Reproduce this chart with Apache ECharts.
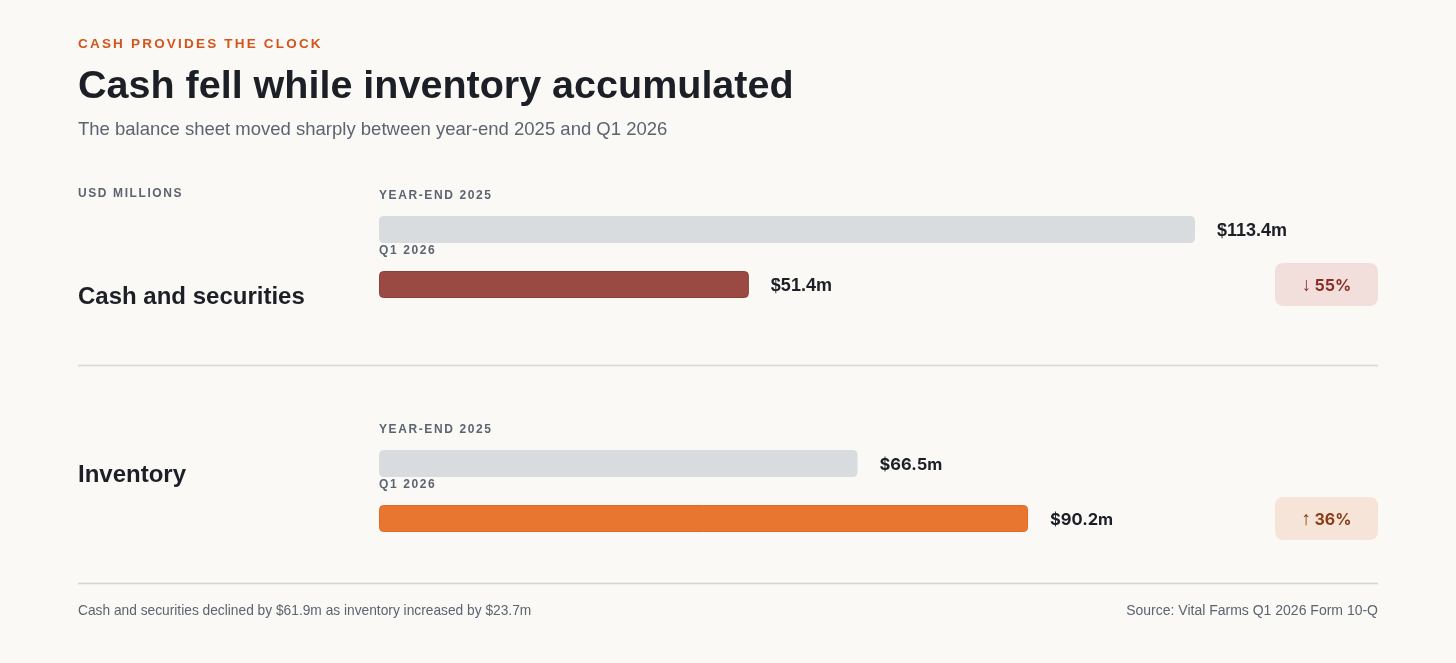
<!DOCTYPE html>
<html>
<head>
<meta charset="utf-8">
<script src="https://cdn.jsdelivr.net/npm/echarts@6/dist/echarts.min.js"></script>
<style>
  html, body { margin: 0; padding: 0; background: #faf9f6; }
  #chart { width: 1456px; height: 663px; }
</style>
</head>
<body>
<div id="chart"></div>
<script>
// data
const rowNames = ['Cash and securities', 'Inventory'];
const periods = ['YEAR-END 2025', 'Q1 2026'];
const cashValues = [113.4, 51.4];
const inventoryValues = [66.5, 90.2];

const yearEndColor = '#d8dcdf';
const q1Colors = ['#9a4a42', '#e87530'];
const q1Borders = ['#8e3f37', '#e06c27'];
const badgeFill = ['#f2dfdc', '#f6e4d8'];
const badgeText = ['#8a2e25', '#8a3d14'];

const sans = '"Liberation Sans", Arial, sans-serif';
const muted = '#5b6470';
const ink = '#1c2026';

const allValues = [cashValues, inventoryValues];
const maxVal = Math.max(...cashValues, ...inventoryValues);

// canvas letterSpacing isn't applied, so put a small rich-text space between letters
const spaced = s => s.split('').join('{g| }');
const gap = px => ({ g: { fontSize: px / 0.278, fontFamily: sans } });

function pctChange(v) {
  const p = Math.round((v[1] - v[0]) / v[0] * 100);
  return '{a|' + (p < 0 ? '↓' : '↑') + '} {n|' + Math.abs(p) + '%}';
}

const chart = echarts.init(document.getElementById('chart'), null, { renderer: 'canvas' });

const grids = [
  { left: 379, right: 261, top: 202, height: 110 },
  { left: 379, right: 261, top: 436, height: 110 }
];

const option = {
  backgroundColor: '#faf9f6',
  animation: false,
  title: [
    {
      text: spaced('CASH PROVIDES THE CLOCK'),
      left: 73, top: 32,
      textStyle: { fontFamily: sans, fontSize: 13.5, fontWeight: 'bold', color: '#d4541c', rich: gap(2.2) }
    },
    {
      text: 'Cash fell while inventory accumulated',
      subtext: 'The balance sheet moved sharply between year-end 2025 and Q1 2026',
      left: 73, top: 62, itemGap: 13,
      textStyle: { fontFamily: sans, fontSize: 39.5, fontWeight: 'bold', color: ink },
      subtextStyle: { fontFamily: sans, fontSize: 18.5, color: muted }
    }
  ],
  grid: grids,
  xAxis: grids.map((g, i) => ({ gridIndex: i, type: 'value', min: 0, max: maxVal, show: false })),
  yAxis: grids.map((g, i) => ({
    gridIndex: i,
    type: 'category',
    data: periods,
    inverse: true,
    axisLine: { show: false },
    axisTick: { show: false },
    splitLine: { show: false },
    axisLabel: {
      inside: true, margin: 0, align: 'left', verticalAlign: 'bottom',
      padding: [0, 0, 28, 0],
      formatter: spaced,
      fontFamily: sans, fontSize: 12, fontWeight: 'bold', color: muted,
      rich: gap(1.6)
    }
  })),
  series: allValues.map((vals, i) => ({
    type: 'bar',
    xAxisIndex: i,
    yAxisIndex: i,
    barWidth: 27,
    data: vals.map((v, j) => ({
      value: v,
      itemStyle: {
        color: j === 0 ? yearEndColor : q1Colors[i],
        borderColor: j === 0 ? yearEndColor : q1Borders[i],
        borderWidth: 1,
        borderRadius: 4
      }
    })),
    label: {
      show: true,
      position: 'right',
      distance: 22,
      offset: [0, 2],
      formatter: p => '$' + p.value.toFixed(1) + 'm',
      fontFamily: i === 0 ? sans : 'Inter, sans-serif',
      fontSize: i === 0 ? 18 : 16.5,
      fontWeight: 'bold',
      color: ink
    }
  })),
  graphic: [
    {
      type: 'text', left: 78, top: 188,
      style: { text: spaced('USD MILLIONS'), fontFamily: sans, fontSize: 12, fontWeight: 'bold', fill: muted, rich: gap(1.6) }
    },
    {
      type: 'text', left: 78, top: 285,
      style: { text: rowNames[0], fontFamily: sans, fontSize: 24, fontWeight: 'bold', fill: ink }
    },
    {
      type: 'text', left: 78, top: 463,
      style: { text: rowNames[1], fontFamily: sans, fontSize: 24, fontWeight: 'bold', fill: ink }
    },
    {
      type: 'line', shape: { x1: 78, y1: 365.5, x2: 1378, y2: 365.5 },
      style: { stroke: '#dad8d2', lineWidth: 1.5 }
    },
    {
      type: 'line', shape: { x1: 78, y1: 583.5, x2: 1378, y2: 583.5 },
      style: { stroke: '#d6d4ce', lineWidth: 1.5 }
    }
  ].concat(allValues.map((vals, i) => ({
    type: 'group', left: 1275, top: i === 0 ? 263 : 497,
    children: [
      { type: 'rect', shape: { x: 0, y: 0, width: 103, height: 43, r: 8 }, style: { fill: badgeFill[i] } },
      {
        type: 'text', x: 51.5, y: 23,
        style: {
          text: pctChange(vals), align: 'center', verticalAlign: 'middle', fill: badgeText[i],
          rich: {
            a: { fontFamily: sans, fontSize: 19, fill: badgeText[i] },
            n: { fontFamily: 'Inter, sans-serif', fontSize: 16, fontWeight: 'bold', fill: badgeText[i] }
          }
        }
      }
    ]
  }))).concat([
    {
      type: 'text', left: 78, top: 604,
      style: { text: 'Cash and securities declined by $61.9m as inventory increased by $23.7m', fontFamily: sans, fontSize: 13.75, fill: muted }
    },
    {
      type: 'text', right: 78, top: 604,
      style: { text: 'Source: Vital Farms Q1 2026 Form 10-Q', fontFamily: sans, fontSize: 14, fill: muted }
    }
  ])
};

chart.setOption(option);
</script>
</body>
</html>
